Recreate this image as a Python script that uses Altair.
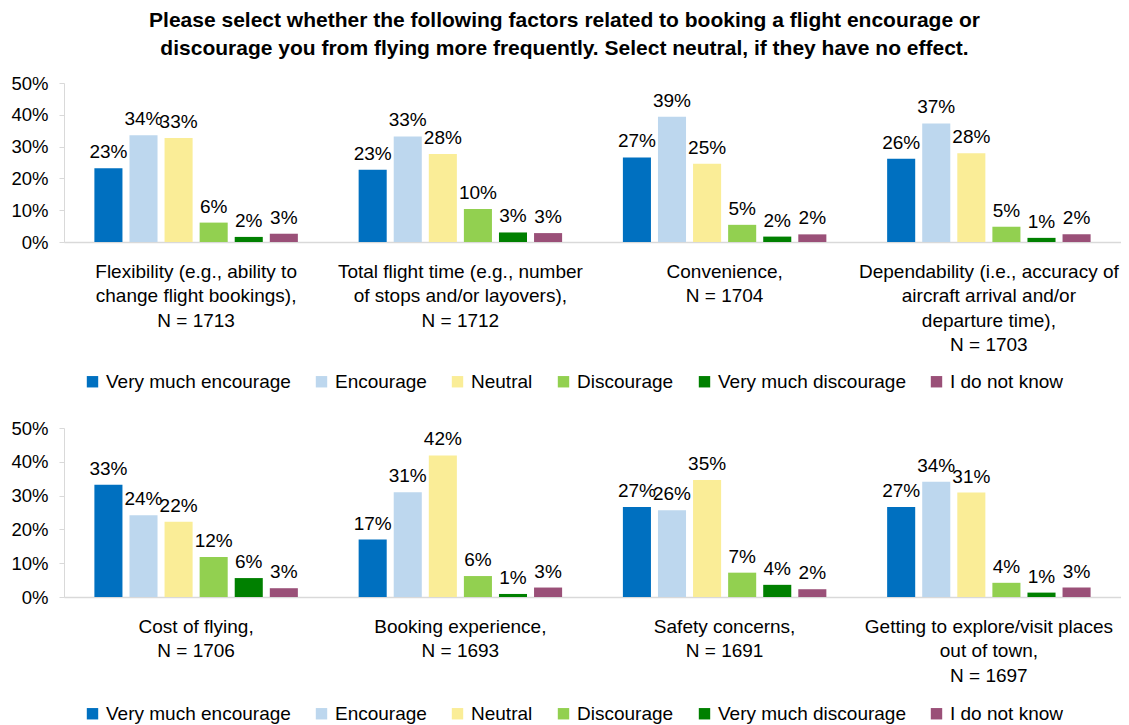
import altair as alt
import pandas as pd

FONT = "Liberation Sans"

responses = ["Very much encourage", "Encourage", "Neutral", "Discourage",
             "Very much discourage", "I do not know"]
colors = ["#0070C0", "#BDD7EE", "#FAED97", "#92D050", "#008000", "#9A5078"]

top_factors = [
    "Flexibility (e.g., ability to|change flight bookings),|N = 1713",
    "Total flight time (e.g., number|of stops and/or layovers),|N = 1712",
    "Convenience,|N = 1704",
    "Dependability (i.e., accuracy of|aircraft arrival and/or|departure time),|N = 1703",
]
top_values = [
    [23.2, 33.6, 32.7, 6.1, 1.6, 2.6],
    [22.7, 33.2, 27.7, 10.4, 3.0, 2.8],
    [26.6, 39.4, 24.6, 5.4, 1.7, 2.4],
    [26.2, 37.3, 27.9, 4.8, 1.3, 2.4],
]

bottom_factors = [
    "Cost of flying,|N = 1706",
    "Booking experience,|N = 1693",
    "Safety concerns,|N = 1691",
    "Getting to explore/visit places|out of town,|N = 1697",
]
bottom_values = [
    [33.2, 24.2, 22.3, 11.8, 5.6, 2.6],
    [17.0, 31.0, 41.9, 6.2, 0.9, 2.8],
    [26.6, 25.7, 34.6, 7.2, 3.6, 2.3],
    [26.6, 34.1, 30.9, 4.2, 1.3, 2.8],
]

title_lines = [
    "Please select whether the following factors related to booking a flight encourage or",
    "discourage you from flying more frequently. Select neutral, if they have no effect.",
]


def make_df(factors, values):
    rows = []
    for f, vals in zip(factors, values):
        for r, v in zip(responses, vals):
            rows.append({"factor": f, "response": r, "value": v / 100.0})
    return pd.DataFrame(rows)


def panel(factors, values, height, legend_y):
    df = make_df(factors, values)
    base = alt.Chart(df).encode(
        x=alt.X(
            "factor:N", sort=factors, title=None,
            scale=alt.Scale(paddingInner=0.23, paddingOuter=0.115),
            axis=alt.Axis(
                labelAngle=0, labelExpr="split(datum.label, '|')",
                labelLimit=500, labelFontSize=19, labelFont=FONT,
                labelColor="#000000", labelLineHeight=24.5, labelPadding=20,
                ticks=False, domainColor="#D9D9D9", domainWidth=1.5,
            ),
        ),
        xOffset=alt.XOffset("response:N", sort=responses,
                            scale=alt.Scale(paddingInner=0.2)),
        y=alt.Y(
            "value:Q", title=None,
            scale=alt.Scale(domain=[0, 0.5]),
            axis=alt.Axis(
                values=[0, 0.1, 0.2, 0.3, 0.4, 0.5], format=".0%",
                grid=False, labelFontSize=18.5, labelFont=FONT,
                labelColor="#000000", tickSize=5, tickColor="#D9D9D9",
                domainColor="#D9D9D9", labelPadding=11,
                minExtent=56, maxExtent=56,
            ),
        ),
    )
    bars = base.mark_bar().encode(
        color=alt.Color(
            "response:N", sort=responses,
            scale=alt.Scale(domain=responses, range=colors),
            legend=alt.Legend(
                title=None, orient="none", direction="horizontal",
                legendX=19, legendY=legend_y,
                symbolType="square", symbolSize=130, symbolStrokeWidth=0,
                labelFontSize=19, labelFont=FONT, labelColor="#000000",
                columnPadding=21, labelOffset=4, labelLimit=400,
            ),
        )
    )
    text = base.mark_text(
        baseline="alphabetic", dy=-10, fontSize=19, font=FONT, color="#000000"
    ).encode(text=alt.Text("value:Q", format=".0%"))
    return alt.layer(bars, text).properties(width=1057, height=height)


top = panel(top_factors, top_values, 159, 289)
bottom = panel(bottom_factors, bottom_values, 169, 276)

chart = alt.vconcat(top, bottom, spacing=27).resolve_scale(
    color="independent", x="independent"
).properties(
    title=alt.TitleParams(
        text=title_lines, fontSize=21, font=FONT, fontWeight="bold",
        lineHeight=28, anchor="middle", color="#000000", offset=15,
    ),
    padding={"left": 0, "top": 2, "right": 0, "bottom": 0},
).configure_view(stroke=None)

chart.save("out.html", embed_options={"renderer": "svg", "actions": False})
